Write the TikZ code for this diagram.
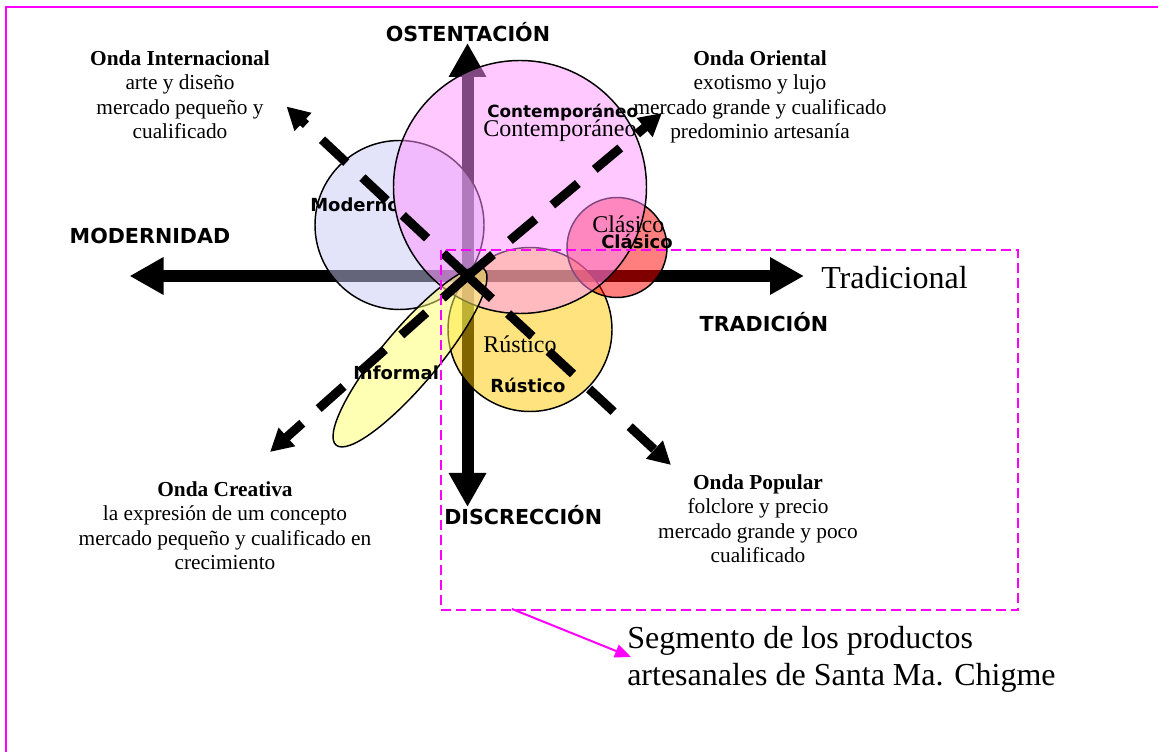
\documentclass[tikz,border=0pt]{standalone}
\usepackage{fontspec}
\setmainfont{Liberation Serif}
\newfontfamily\comicf{DejaVu Sans}
\usetikzlibrary{arrows.meta,shapes.geometric}
\definecolor{lavc}{RGB}{200,200,245}
\definecolor{pinkc}{RGB}{255,145,255}
\definecolor{redc}{RGB}{255,0,0}
\definecolor{yelc}{RGB}{255,200,0}
\definecolor{infc}{RGB}{255,255,105}
\definecolor{magc}{RGB}{255,0,255}
\begin{document}
\begin{tikzpicture}[x=0.75pt,y=-0.75pt,
  axisline/.style={line width=9pt},
  diag/.style={line width=6.75pt,dash pattern=on 25pt off 16.5pt,-{Triangle[length=17pt,width=17.5pt]}},
  blob/.style={draw=black,line width=1.1pt,fill opacity=0.5,inner sep=0pt,outer sep=0pt},
  comic/.style={font=\comicf\bfseries\fontsize{15.5}{18}\selectfont,inner sep=0pt},
  comicsm/.style={font=\comicf\bfseries\fontsize{13.5}{16}\selectfont,inner sep=0pt},
  tlab/.style={font=\fontsize{18}{21}\selectfont,inner sep=0pt},
  desc/.style={font=\fontsize{16}{18.2}\selectfont,align=center,inner sep=0pt,anchor=north},
  big/.style={font=\fontsize{24}{28}\selectfont,inner sep=0pt}]
\useasboundingbox (0,0) rectangle (1158,752);
% frame
\draw[magc,line width=1.5pt] (5.5,752) -- (5.5,7.5) -- (1158,7.5);
% axes
\coordinate (C) at (467.5,276);
\coordinate (W) at (129.5,276);
\coordinate (E) at (804,276);
\coordinate (N) at (467.5,43);
\coordinate (S) at (467.5,507);
\draw[axisline,{Triangle[length=25.5pt,width=26.5pt]}-{Triangle[length=25.5pt,width=26.5pt]}] (W) -- (E);
\draw[axisline,-{Triangle[length=25.5pt,width=26.5pt]}] (C) -- (N);
\draw[axisline,-{Triangle[length=25.5pt,width=26.5pt]}] (C) -- (S);
% circles
\node[blob,circle,fill=lavc,minimum size=126.75pt] (moderno) at (399.5,225) {};
\node[blob,circle,fill=yelc,minimum size=123pt] (rustico) at (530,329.5) {};
\node[blob,circle,fill=redc,minimum size=75pt] (clasico) at (617,247.5) {};
\node[blob,circle,fill=pinkc,minimum size=189.75pt] (contemp) at (520,187) {};
\node[blob,ellipse,fill=infc,minimum width=172.5pt,minimum height=42pt,rotate=50] (informal) at (410,357) {};
% diagonals
\coordinate (NW) at (286.5,106.5);
\coordinate (SE) at (671,465);
\coordinate (NE) at (662,113);
\coordinate (SW) at (270,452);
\draw[diag] (C) -- (NW);
\draw[diag] (C) -- (SE);
\draw[diag] (C) -- (NE);
\draw[diag] (C) -- (SW);
% segment box
\node[draw=magc,line width=1.8pt,dash pattern=on 7.5pt off 3.75pt,inner sep=0pt,minimum width=433.1pt,minimum height=270pt,anchor=north west] (seg) at (439.5,249) {};
\coordinate (segarrowstart) at (512,609);
\coordinate (segarrowend) at (631,657);
\draw[magc,line width=1.5pt,-{Triangle[length=12pt,width=10pt]}] (segarrowstart) -- (segarrowend);
% axis labels
\node[comic,anchor=base] (ost) at (468,42) {OSTENTACIÓN};
\node[comic,anchor=base] (modl) at (150,244) {MODERNIDAD};
\node[comic,anchor=base] (tra) at (764,332) {TRADICIÓN};
\node[comic,anchor=base west] (dis) at (444,525) {DISCRECCIÓN};
\node[big,anchor=base west] (tradl) at (821,289) {Tradicional};
% blob labels
\begin{scope}
\clip (480,90) rectangle (637,125);
\node[comicsm,anchor=base west,font=\comicf\bfseries\fontsize{12.6}{15}\selectfont] (contb) at (487,118) {Contemporáneo};
\end{scope}
\node[tlab,anchor=base west] (contt) at (483,137) {Contemporáneo};
\begin{scope}
\clip (300,185) rectangle (394.5,220);
\node[comicsm,anchor=base west] (modb) at (310,211.5) {Moderno};
\end{scope}
\node[tlab,anchor=base west] (clat) at (592,233) {Clásico};
\node[comicsm,anchor=base west] (clab) at (601,248.5) {Clásico};
\node[tlab,anchor=base west] (rust) at (483,352.5) {Rústico};
\node[comicsm,anchor=base west] (rusb) at (490,393) {Rústico};
\begin{scope}
\clip (340,355) rectangle (441,390);
\node[comicsm,anchor=base west] (infb) at (353,380) {Informal};
\end{scope}
% wave descriptions
\node[desc] (oint) at (180,50.5) {\textbf{Onda Internacional}\\arte y diseño\\mercado pequeño y\\cualificado};
\node[desc] (oori) at (760,50.5) {\textbf{Onda Oriental}\\exotismo y lujo\\mercado grande y cualificado\\predominio artesanía};
\node[desc] (ocre) at (225,481.5) {\textbf{Onda Creativa}\\la expresión de um concepto\\mercado pequeño y cualificado en\\crecimiento};
\node[desc] (opop) at (758,474.5) {\textbf{Onda Popular}\\folclore y precio\\mercado grande y poco\\cualificado};
\node[big,align=left,anchor=north west] (segtxt) at (627,625.7) {Segmento de los productos\\artesanales de Santa Ma. Chigme};
\end{tikzpicture}
\end{document}
